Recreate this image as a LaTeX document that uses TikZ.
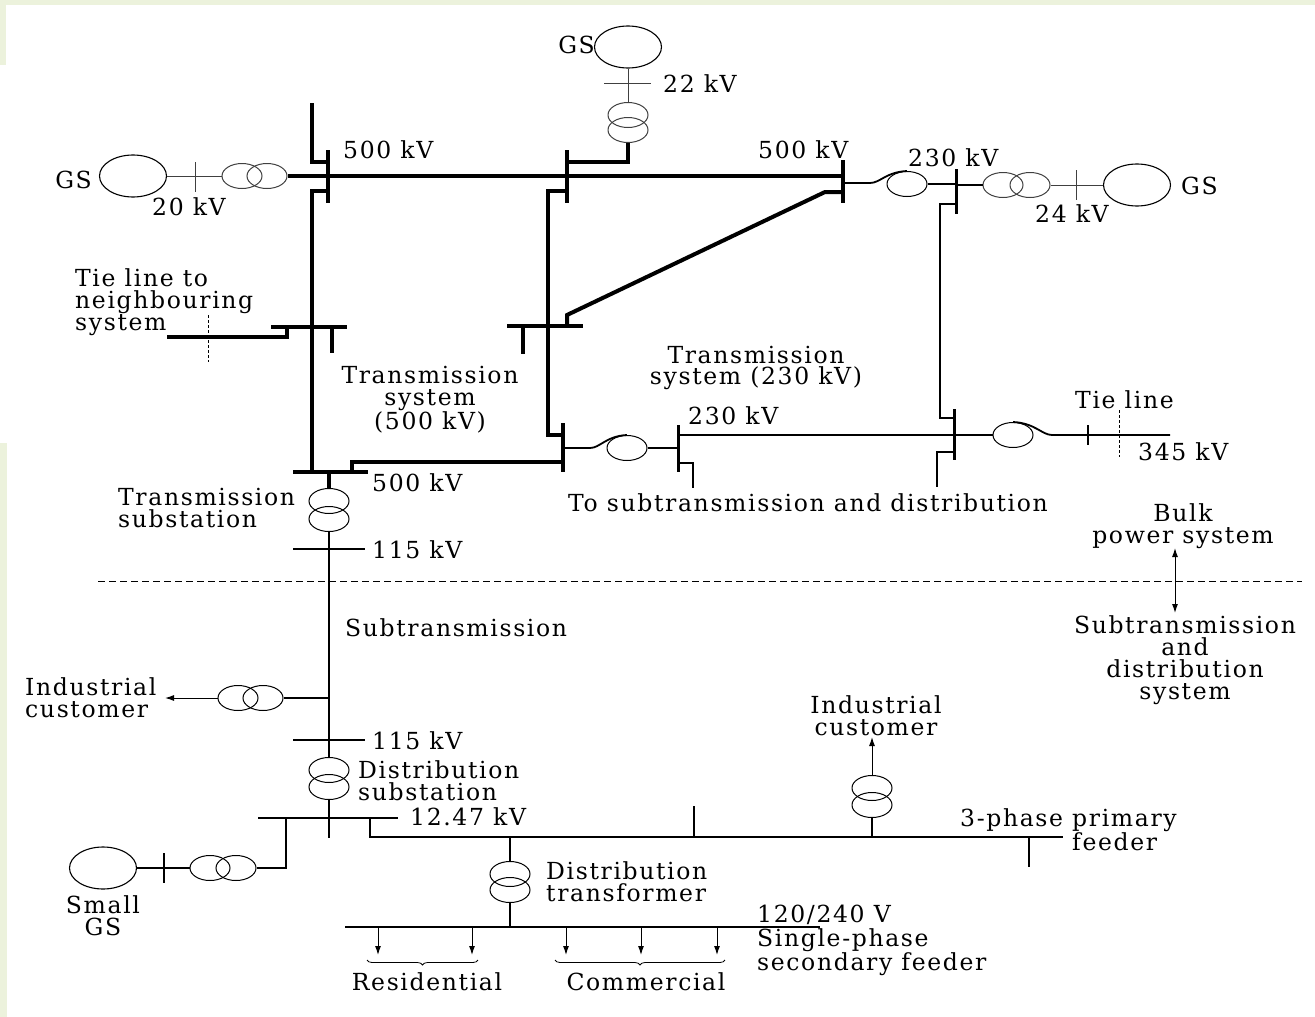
\documentclass[tikz,border=0pt]{standalone}
\usepackage{fontspec}
\setmainfont{DejaVu Serif}[LetterSpace=7]
\usetikzlibrary{shapes.geometric,arrows.meta,decorations.pathreplacing}
\definecolor{bgreen}{RGB}{236,242,220}

\begin{document}
\begin{tikzpicture}[x=1pt, y=-1pt,
  every node/.style={font=\fontsize{23.5}{21.8}\selectfont, inner sep=0pt},
  gen/.style={draw, ellipse, minimum width=67pt, minimum height=42pt, line width=1.1pt},
  xf/.style={draw, ellipse, minimum width=40pt, minimum height=25pt, line width=1pt},
  bus/.style={line width=4.5pt},
  hvline/.style={line width=4pt},
  mvbus/.style={line width=3pt},
  mvline/.style={line width=1.8pt},
  lvline/.style={line width=1.1pt},
  gline/.style={line width=0.9pt, black!75},
  load/.style={-{Latex[length=9pt,width=6pt]}, line width=1pt}]
\useasboundingbox (0,0) rectangle (1315,1017);
\fill[bgreen] (0,0) rectangle (1315,5);
\fill[bgreen] (0,0) rectangle (6,65);
\fill[bgreen] (0,443) rectangle (7,1017);

% generators and transformers
\node[gen] (gTop) at (628,47) {};
\node[gen] (gLeft) at (133,176) {};
\node[gen] (gRight) at (1137,185) {};
\node[gen] (gSmall) at (103,868) {};
\node[xf, black!75] (t1a) at (628,115) {};
\node[xf, black!75] (t1b) at (628,130) {};
\node[xf, black!75] (t2a) at (242,176) {};
\node[xf, black!75] (t2b) at (267,176) {};
\node[xf, black!75] (t3a) at (1003,185) {};
\node[xf, black!75] (t3b) at (1030,185) {};
\node[xf] (t4a) at (329,501) {};
\node[xf] (t4b) at (329,519) {};
\node[xf] (t5a) at (238,698) {};
\node[xf] (t5b) at (263,698) {};
\node[xf] (t6a) at (329,770) {};
\node[xf] (t6b) at (329,787) {};
\node[xf] (t7a) at (210,868) {};
\node[xf] (t7b) at (236,868) {};
\node[xf] (t8a) at (872,788) {};
\node[xf] (t8b) at (872,805) {};
\node[xf] (t9a) at (510,874) {};
\node[xf] (t9b) at (510,890) {};
\node[xf] (rTop) at (907,184) {};
\node[xf] (rMid) at (627,448) {};
\node[xf] (rTie) at (1013,435) {};

% 500 kV
\draw[hvline] (312,103) -- (312,162) -- (328,162);
\draw[bus] (328,150) -- (328,203);
\draw[bus] (567,150) -- (567,203);
\draw[bus] (843,160) -- (843,203);
\draw[hvline] (t2b.east) -- (843,176);
\draw[hvline] (t1b.south) -- (628,162) -- (567,162);
\draw[hvline] (328,191) -- (312,191) -- (312,472);
\draw[hvline] (567,191) -- (548,191) -- (548,435) -- (563,435);
\draw[bus] (271,327) -- (347,327);
\draw[hvline] (287,327) -- (287,337) -- (167,337);
\draw[hvline] (332,327) -- (332,353);
\draw[densely dashed, line width=0.9pt] (208,315) -- (208,362);
\draw[bus] (507,326) -- (583,326);
\draw[hvline] (523,326) -- (523,354);
\draw[hvline] (567,326) -- (567,315) -- (825,192) -- (843,192);
\draw[bus] (293,472) -- (368,472);
\draw[bus] (563,423) -- (563,472);
\draw[hvline] (352,472) -- (352,462) -- (563,462);
\draw[hvline] (329,472) -- (t4a.north);

% 230 kV
\draw[mvline] (843,183) -- (870,183) .. controls (880,183) and (886,172) .. (rTop.north);
\draw[mvline] (rTop.east) -- (956,184);
\draw[mvbus] (956,169) -- (956,214);
\draw[mvline] (956,185) -- (t3a.west);
\draw[mvline] (956,204) -- (940,204) -- (940,418) -- (954,418);
\draw[mvbus] (954,409) -- (954,460);
\draw[mvline] (563,448) -- (590,448) .. controls (600,448) and (606,436) .. (rMid.north);
\draw[mvline] (rMid.east) -- (678,448);
\draw[mvbus] (678,425) -- (678,472);
\draw[mvline] (678,435) -- (954,435);
\draw[mvline] (678,463) -- (693,463) -- (693,488);
\draw[mvline] (954,435) -- (rTie.west);
\draw[mvline] (rTie.north) .. controls (1035,423) and (1042,435) .. (1052,435) -- (1170,435);
\draw[mvline] (1088,425) -- (1088,445);
\draw[densely dashed, line width=0.9pt] (1119,410) -- (1119,457);
\draw[mvline] (954,452) -- (937,452) -- (937,487);

% generator leads
\draw[gline] (gTop.south) -- (t1a.north);
\draw[gline] (604,83) -- (651,83);
\draw[gline] (gLeft.east) -- (t2a.west);
\draw[gline] (195,162) -- (195,192);
\draw[gline] (t3b.east) -- (gRight.west);
\draw[gline] (1076,170) -- (1076,200);

% subtransmission and distribution
\draw[lvline] (t4b.south) -- (t6a.north);
\draw[lvline] (293,549) -- (365,549);
\draw[lvline] (329,698) -- (t5b.east);
\draw[load] (t5a.west) -- (165,698);
\draw[lvline] (293,740) -- (365,740);
\draw[lvline] (t6b.south) -- (329,838);
\draw[lvline] (258,818) -- (398,818);
\draw[lvline] (286,818) -- (286,868) -- (t7b.east);
\draw[lvline] (t7a.west) -- (gSmall.east);
\draw[lvline] (164,853) -- (164,883);
\draw[lvline] (370,818) -- (370,837) -- (1063,837);
\draw[lvline] (694,806) -- (694,837);
\draw[lvline] (872,837) -- (t8b.south);
\draw[load] (t8a.north) -- (872,737);
\draw[lvline] (1029,837) -- (1029,867);
\draw[lvline] (510,837) -- (t9a.north);
\draw[lvline] (t9b.south) -- (510,927);
\draw[lvline] (345,927) -- (820,927);
\foreach \x in {378,472,566,641,717} \draw[load] (\x,927) -- (\x,955);
\draw[decorate, decoration={brace, mirror, amplitude=5pt}, line width=0.8pt] (367,960) -- (478,960);
\draw[decorate, decoration={brace, mirror, amplitude=5pt}, line width=0.8pt] (555,960) -- (725,960);

% boundary
\draw[dash pattern=on 7pt off 4pt, line width=1pt] (98,581) -- (1302,581);
\draw[{Latex[length=9pt,width=6pt]}-{Latex[length=9pt,width=6pt]}, line width=1pt] (1175,548) -- (1175,613);

% labels
\node[anchor=east] (lGSt) at (595,45) {GS};
\node[anchor=west] (l22) at (663,84) {22 kV};
\node[anchor=west] (l500a) at (343,150) {500 kV};
\node[anchor=west] (l500b) at (758,150) {500 kV};
\node[anchor=west] (l230a) at (908,158) {230 kV};
\node[anchor=east] (lGSl) at (92,180) {GS};
\node[anchor=west] (l20) at (152,207) {20 kV};
\node[anchor=west] (l24) at (1035,214) {24 kV};
\node[anchor=west] (lGSr) at (1181,186) {GS};
\node[anchor=west, align=left] (lTieN) at (75,302) {Tie line to\\neighbouring\\system};
\node[align=center] (lT500) at (430,400) {Transmission\\system\\(500 kV)};
\node[align=center] (lT230) at (756,368) {Transmission\\system (230 kV)};
\node[anchor=west] (l230b) at (688,416) {230 kV};
\node[anchor=west] (lTie) at (1075,400) {Tie line};
\node[anchor=west] (l345) at (1138,452) {345 kV};
\node[anchor=west] (l500c) at (372,483) {500 kV};
\node[anchor=west] (lTo) at (568,503) {To subtransmission and distribution};
\node[anchor=west, align=left] (lTS) at (118,508) {Transmission\\substation};
\node[anchor=west] (l115a) at (372,550) {115 kV};
\node[align=center] (lBulk) at (1183,526) {Bulk\\power system};
\node[anchor=west] (lSub) at (345,628) {Subtransmission};
\node[align=center] (lSD) at (1185,660) {Subtransmission\\and\\distribution\\system};
\node[anchor=west, align=left] (lInd1) at (25,698) {Industrial\\customer};
\node[anchor=west] (l115b) at (372,741) {115 kV};
\node[anchor=west, align=left] (lDS) at (358,781) {Distribution\\substation};
\node[align=center] (lInd2) at (876,716) {Industrial\\customer};
\node[anchor=west] (l1247) at (410,817) {12.47 kV};
\node[anchor=west, align=left] (lFeed) at (960,832) {3-phase primary\\\phantom{3-phase }feeder};
\node[anchor=west, align=left] (lDT) at (546,882) {Distribution\\transformer};
\node[anchor=west] (l120) at (757,915) {120/240 V};
\node[anchor=west, align=left] (lSec) at (757,952) {Single-phase\\secondary feeder};
\node (lRes) at (427,982) {Residential};
\node (lCom) at (646,982) {Commercial};
\node[align=center] (lSmall) at (103,916) {Small\\GS};
\end{tikzpicture}
\end{document}
